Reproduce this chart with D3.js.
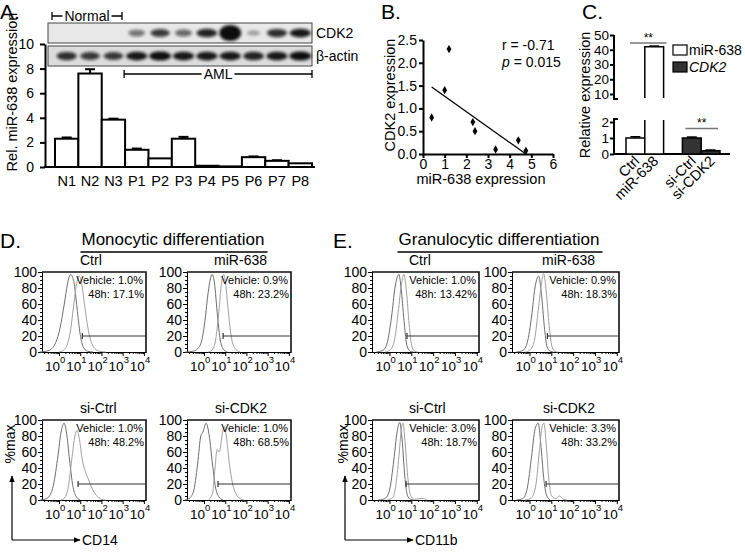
<!DOCTYPE html>
<html>
<head>
<meta charset="utf-8">
<script src="https://cdn.jsdelivr.net/npm/d3@7"></script>
<style>
body { margin: 0; background: #fff; }
svg { display: block; font-family: "Liberation Sans", Arial, sans-serif; }
</style>
</head>
<body>
<svg id="fig" width="745" height="557"></svg>
<script>
// ---------- panel A data ----------
const samples = ["N1", "N2", "N3", "P1", "P2", "P3", "P4", "P5", "P6", "P7", "P8"];
const mirExpr = [2.3, 7.6, 3.85, 1.4, 0.7, 2.3, 0.1, 0.05, 0.8, 0.5, 0.3];
const mirErr = [0.1, 0.35, 0.08, 0.1, 0, 0.15, 0, 0, 0.06, 0.05, 0];
const cdk2Band = [0, 0, 0, 0.55, 0.8, 0.6, 0.9, 1.0, 0.3, 0.85, 0.95];
const actinBand = [0.85, 0.8, 0.8, 0.95, 1.0, 0.95, 0.95, 0.95, 0.9, 0.95, 1.0];

// ---------- panel B data ----------
const corrMir = [0.4, 1.0, 1.2, 2.3, 2.4, 3.35, 4.4, 4.75];
const corrCdk2 = [0.8, 1.4, 2.3, 0.7, 0.5, 0.1, 0.3, 0.07];
const fitLine = [[0.4, 1.47], [4.75, 0.0]];

// ---------- panel C data ----------
const cGroups = ["Ctrl", "miR-638", "", "si-Ctrl", "si-CDK2"];
const cValues = [1.0, 42, null, 1.0, 0.2];
const cErr = [0.08, 0.5, null, 0.06, 0.05];
const cSeries = ["miR-638", "miR-638", null, "CDK2", "CDK2"];

// ---------- panels D/E data: [log10 intensity, %max] ----------
const monoCtrlVeh = [[-0.9,0],[-0.6,1],[-0.35,4],[-0.15,12],[0.05,30],[0.25,60],[0.4,85],[0.55,97],[0.7,88],[0.85,55],[1.0,22],[1.15,6],[1.35,1],[1.6,0]];
const monoCtrl48 = [[0,0],[0.2,2],[0.4,10],[0.55,28],[0.7,60],[0.85,88],[0.95,95],[1.05,88],[1.2,60],[1.35,32],[1.5,14],[1.7,4],[1.9,1],[2.2,0]];
const monoMirVeh = [[-0.9,0],[-0.5,1],[-0.3,4],[-0.1,15],[0.05,40],[0.2,75],[0.38,97],[0.5,85],[0.62,50],[0.75,18],[0.9,4],[1.1,0]];
const monoMir48 = [[0.2,0],[0.4,3],[0.55,15],[0.7,50],[0.82,85],[0.92,97],[1.02,85],[1.15,50],[1.28,20],[1.45,5],[1.7,0]];
const monoSiCtrlVeh = [[-0.9,0],[-0.65,1],[-0.45,5],[-0.25,20],[-0.05,55],[0.1,85],[0.24,96],[0.35,85],[0.5,50],[0.65,18],[0.8,5],[1.0,0]];
const monoSiCtrl48 = [[0.1,0],[0.3,4],[0.45,18],[0.6,50],[0.75,80],[0.85,87],[0.95,78],[1.1,50],[1.25,35],[1.4,25],[1.55,15],[1.75,6],[2.0,1],[2.2,0]];
const monoSiCdkVeh = [[-0.9,0],[-0.7,2],[-0.5,10],[-0.3,45],[-0.15,80],[-0.05,85],[0.1,96],[0.25,80],[0.4,45],[0.55,15],[0.7,4],[0.9,0]];
const monoSiCdk48 = [[0.2,0],[0.4,8],[0.52,40],[0.62,63],[0.72,60],[0.85,80],[0.95,92],[1.05,80],[1.2,45],[1.35,20],[1.5,8],[1.7,2],[1.9,0]];

const granCtrlVeh = [[-0.6,0],[-0.3,2],[-0.1,12],[0.1,45],[0.25,80],[0.43,97],[0.55,75],[0.68,35],[0.8,8],[0.95,1],[1.1,0]];
const granCtrl48 = [[-0.2,0],[0.05,3],[0.25,18],[0.4,50],[0.55,85],[0.66,97],[0.78,75],[0.9,35],[1.02,8],[1.15,1],[1.3,0]];
const granMirVeh = [[-0.6,0],[-0.3,2],[-0.1,12],[0.1,45],[0.25,80],[0.42,95],[0.55,72],[0.68,32],[0.8,7],[0.95,1],[1.1,0]];
const granMir48 = [[-0.2,0],[0.05,3],[0.25,18],[0.4,52],[0.55,86],[0.65,98],[0.77,75],[0.9,33],[1.02,8],[1.15,1],[1.3,0]];
const granSiCtrlVeh = [[-0.5,0],[-0.2,2],[0.0,12],[0.2,50],[0.35,85],[0.47,97],[0.58,75],[0.7,30],[0.82,6],[0.95,1],[1.1,0]];
const granSiCtrl48 = [[-0.1,0],[0.15,3],[0.3,20],[0.45,60],[0.55,90],[0.62,96],[0.72,70],[0.85,25],[0.98,5],[1.15,1],[1.5,2],[1.7,0]];
const granSiCdkVeh = [[-0.6,0],[-0.3,2],[-0.1,15],[0.1,55],[0.25,88],[0.4,96],[0.52,70],[0.65,28],[0.78,6],[0.95,0]];
const granSiCdk48 = [[-0.2,0],[0.1,3],[0.3,20],[0.45,60],[0.58,92],[0.66,96],[0.78,65],[0.9,22],[1.02,5],[1.2,2],[1.37,5],[1.55,1],[1.7,0]];

const monoTitles = ["Ctrl", "miR-638", "si-Ctrl", "si-CDK2"];
const monoVehicle = ["1.0%", "0.9%", "1.0%", "1.0%"];
const mono48h = ["17.1%", "23.2%", "48.2%", "68.5%"];
const monoGates = [1.1, 0.9, 0.9, 0.66];
const granTitles = ["Ctrl", "miR-638", "si-Ctrl", "si-CDK2"];
const granVehicle = ["1.0%", "0.9%", "3.0%", "3.3%"];
const gran48h = ["13.42%", "18.3%", "18.7%", "33.2%"];
const granGates = [0.8, 0.82, 0.76, 0.76];

const svg = d3.select("#fig");

function styleAxis(sel, sw, fs) {
  sel.attr("font-family", null).attr("font-size", fs);
  sel.select(".domain").attr("stroke", "#000").attr("stroke-width", sw);
  sel.selectAll(".tick line").attr("stroke", "#000").attr("stroke-width", sw);
  sel.selectAll(".tick text").attr("fill", "#000");
}

const defs = svg.append("defs");
defs.append("filter").attr("id", "blur").attr("x", "-50%").attr("y", "-100%").attr("width", "200%").attr("height", "300%")
  .append("feGaussianBlur").attr("stdDeviation", 1.6);
defs.append("marker").attr("id", "arrow").attr("viewBox", "0 0 10 10").attr("refX", 9).attr("refY", 5)
  .attr("markerWidth", 6).attr("markerHeight", 6).attr("orient", "auto")
  .append("path").attr("d", "M0,1L10,5L0,9Z").attr("fill", "#000");

// ================= A =================
const gA = svg.append("g");
gA.append("text").attr("x", 0).attr("y", 19).attr("font-size", 21).text("A.");

const xA = d3.scaleBand().domain(samples).range([55, 312]).padding(0);
const yA = d3.scaleLinear().domain([0, 10]).range([167, 44]);

// blot
const blots = [
  { name: "CDK2", y: 23, h: 20, vals: cdk2Band, bg: "#e8e8e8" },
  { name: "β-actin", y: 46, h: 20, vals: actinBand, bg: "#dcdcdc" }
];
blots.forEach(b => {
  gA.append("rect").attr("x", 48).attr("y", b.y).attr("width", 264).attr("height", b.h)
    .attr("fill", b.bg).attr("stroke", "#444").attr("stroke-width", 1);
  gA.append("g").attr("filter", "url(#blur)").selectAll("ellipse").data(samples).join("ellipse")
    .attr("cx", d => xA(d) + xA.bandwidth() / 2)
    .attr("cy", b.y + b.h / 2)
    .attr("rx", (d, i) => 5 + 6 * b.vals[i])
    .attr("ry", (d, i) => (b.name === "CDK2" && d === "P5") ? 8 : 2 + 2.5 * b.vals[i])
    .attr("fill", "#111")
    .attr("opacity", (d, i) => b.vals[i]);
  gA.append("text").attr("x", 316).attr("y", b.y + b.h / 2 + 5).attr("font-size", 14).text(b.name);
});

gA.append("g").attr("transform", "translate(45,0)")
  .call(d3.axisLeft(yA).tickValues([0, 2, 4, 6, 8, 10]).tickFormat(d3.format("d")).tickSize(5).tickSizeOuter(0).tickPadding(6))
  .call(styleAxis, 2, 14);
gA.append("line").attr("x1", 44).attr("x2", 315).attr("y1", yA(0)).attr("y2", yA(0)).attr("stroke", "#000").attr("stroke-width", 2);

gA.selectAll("rect.bar").data(samples).join("rect").attr("class", "bar")
  .attr("x", d => xA(d)).attr("width", xA.bandwidth())
  .attr("y", (d, i) => yA(mirExpr[i])).attr("height", (d, i) => yA(0) - yA(mirExpr[i]))
  .attr("fill", "#fff").attr("stroke", "#000").attr("stroke-width", 2);
samples.forEach((s, i) => {
  if (!mirErr[i]) return;
  const cx = xA(s) + xA.bandwidth() / 2;
  gA.append("line").attr("x1", cx).attr("x2", cx).attr("y1", yA(mirExpr[i])).attr("y2", yA(mirExpr[i] + mirErr[i])).attr("stroke", "#000").attr("stroke-width", 2);
  gA.append("line").attr("x1", cx - 5).attr("x2", cx + 5).attr("y1", yA(mirExpr[i] + mirErr[i])).attr("y2", yA(mirExpr[i] + mirErr[i])).attr("stroke", "#000").attr("stroke-width", 2);
});
gA.selectAll("text.xl").data(samples).join("text").attr("class", "xl")
  .attr("x", d => xA(d) + xA.bandwidth() / 2).attr("y", 186).attr("text-anchor", "middle").attr("font-size", 14.5).text(d => d);
gA.append("text").attr("transform", "translate(17,92) rotate(-90)").attr("text-anchor", "middle").attr("font-size", 14.5).text("Rel. miR-638 expression");

function bracket(g, x1, x2, y, label) {
  const t = g.append("text").attr("x", (x1 + x2) / 2).attr("y", y + 5).attr("text-anchor", "middle").attr("font-size", 14).text(label);
  const w = t.node().getComputedTextLength();
  const c = (x1 + x2) / 2;
  g.append("path").attr("d", `M${x1},${y - 4}V${y + 4}M${x1},${y}H${c - w / 2 - 2}M${c + w / 2 + 2},${y}H${x2}M${x2},${y - 4}V${y + 4}`)
    .attr("stroke", "#000").attr("stroke-width", 1.3).attr("fill", "none");
}
bracket(gA, 52, 122, 16, "Normal");
bracket(gA, xA("P1") - 1, xA("P8") + xA.bandwidth(), 74, "AML");

// ================= B =================
const gB = svg.append("g");
gB.append("text").attr("x", 381).attr("y", 19).attr("font-size", 21).text("B.");
const xB = d3.scaleLinear().domain([0, 6]).range([423, 553]);
const yB = d3.scaleLinear().domain([0, 2.5]).range([154, 40]);
gB.append("g").attr("transform", "translate(423,0)")
  .call(d3.axisLeft(yB).tickValues([0, 0.5, 1, 1.5, 2, 2.5]).tickFormat(d3.format(".1f")).tickSize(4).tickSizeOuter(0).tickPadding(2))
  .call(styleAxis, 2, 14);
gB.append("g").attr("transform", "translate(0,154)")
  .call(d3.axisBottom(xB).tickValues([0, 1, 2, 3, 4, 5, 6]).tickFormat(d3.format("d")).tickSize(4).tickSizeOuter(0).tickPadding(1))
  .call(styleAxis, 2, 14);
gB.selectAll("path.pt").data(corrMir).join("path").attr("class", "pt")
  .attr("transform", (d, i) => `translate(${xB(d)},${yB(corrCdk2[i])})`)
  .attr("d", d3.symbol(d3.symbolDiamond, 20)).attr("fill", "#000");
gB.append("path").attr("d", d3.line().x(d => xB(d[0])).y(d => yB(d[1]))(fitLine)).attr("stroke", "#000").attr("stroke-width", 1.3).attr("fill", "none");
gB.append("text").attr("transform", "translate(395,95) rotate(-90)").attr("text-anchor", "middle").attr("font-size", 14.5).text("CDK2 expression");
gB.append("text").attr("x", 481).attr("y", 184).attr("text-anchor", "middle").attr("font-size", 14.5).text("miR-638 expression");
gB.append("text").attr("x", 502).attr("y", 50).attr("font-size", 14).text("r = -0.71");
const pT = gB.append("text").attr("x", 502).attr("y", 67).attr("font-size", 14);
pT.append("tspan").attr("font-style", "italic").text("p");
pT.append("tspan").text(" = 0.015");

// ================= C =================
const gC = svg.append("g");
gC.append("text").attr("x", 582).attr("y", 19).attr("font-size", 21).text("C.");
const xC = d3.scaleBand().domain(cGroups).range([626, 720]).padding(0);
const yCu = d3.scaleLinear().domain([10, 50]).range([94, 35]);
const yCl = d3.scaleLinear().domain([0, 2]).range([154, 122]);
const axU = gC.append("g").attr("transform", "translate(614,0)")
  .call(d3.axisLeft(yCu).tickValues([10, 20, 30, 40, 50]).tickFormat(d3.format("d")).tickSize(4).tickSizeOuter(0).tickPadding(1))
  .call(styleAxis, 2, 13.5);
axU.select(".domain").attr("d", `M0,${yCu(50)}V${yCu(10) + 5}H4`);
const axL = gC.append("g").attr("transform", "translate(614,0)")
  .call(d3.axisLeft(yCl).tickValues([0, 1, 2]).tickFormat(d3.format("d")).tickSize(4).tickSizeOuter(0).tickPadding(1))
  .call(styleAxis, 2, 13.5);
axL.select(".domain").attr("d", `M4,${yCl(2) - 3}H0V${yCl(0)}`);
gC.append("line").attr("x1", 613).attr("x2", 730).attr("y1", yCl(0)).attr("y2", yCl(0)).attr("stroke", "#000").attr("stroke-width", 2);

const fillFor = s => s === "CDK2" ? "#333" : "#fff";
cGroups.forEach((gname, i) => {
  if (cValues[i] === null) return;
  const x = xC(gname), w = xC.bandwidth(), v = cValues[i], cx = x + w / 2;
  if (v <= 2) {
    gC.append("rect").attr("x", x).attr("y", yCl(v)).attr("width", w).attr("height", yCl(0) - yCl(v))
      .attr("fill", fillFor(cSeries[i])).attr("stroke", "#000").attr("stroke-width", 1.5);
    gC.append("line").attr("x1", cx).attr("x2", cx).attr("y1", yCl(v)).attr("y2", yCl(v + cErr[i])).attr("stroke", "#000").attr("stroke-width", 1.5);
    gC.append("line").attr("x1", cx - 5).attr("x2", cx + 5).attr("y1", yCl(v + cErr[i])).attr("y2", yCl(v + cErr[i])).attr("stroke", "#000").attr("stroke-width", 1.5);
  } else {
    gC.append("path").attr("d", `M${x},${yCu(10) + 4}V${yCu(v)}H${x + w}V${yCu(10) + 4}`)
      .attr("fill", fillFor(cSeries[i])).attr("stroke", "#000").attr("stroke-width", 1.5);
    gC.append("path").attr("d", `M${x},${yCl(2) - 2}V${yCl(0)}H${x + w}V${yCl(2) - 2}`)
      .attr("fill", fillFor(cSeries[i])).attr("stroke", "#000").attr("stroke-width", 1.5);
    gC.append("line").attr("x1", cx - 5).attr("x2", cx + 5).attr("y1", yCu(v + cErr[i])).attr("y2", yCu(v + cErr[i])).attr("stroke", "#000").attr("stroke-width", 1.5);
  }
  gC.append("text").attr("transform", `translate(${cx + 5},${yCl(0) + 8}) rotate(-45)`)
    .attr("text-anchor", "end").attr("font-size", 14.5).text(gname);
});
function sig(x1, x2, y) {
  gC.append("line").attr("x1", x1).attr("x2", x2).attr("y1", y).attr("y2", y).attr("stroke", "#777").attr("stroke-width", 1.5);
  gC.append("text").attr("x", (x1 + x2) / 2).attr("y", y - 1).attr("text-anchor", "middle").attr("font-size", 12).text("**");
}
sig(xC("Ctrl") + 4, xC("miR-638") + xC.bandwidth() + 3, yCu(44.5));
sig(xC("si-Ctrl") + 3, xC("si-CDK2") + xC.bandwidth() - 2, yCl(1.6));
const legC = [["miR-638", "#fff", "normal"], ["CDK2", "#333", "italic"]];
legC.forEach((l, i) => {
  gC.append("rect").attr("x", 673).attr("y", 45 + i * 17).attr("width", 14).attr("height", 10).attr("fill", l[1]).attr("stroke", "#000").attr("stroke-width", 1.2);
  gC.append("text").attr("x", 689).attr("y", 55 + i * 17).attr("font-size", 14).attr("font-style", l[2]).text(l[0]);
});
gC.append("text").attr("transform", "translate(590,95) rotate(-90)").attr("text-anchor", "middle").attr("font-size", 14.5).text("Relative expression");

// ================= D / E =================
function histPanel(x0, y0, w, h, veh, trt, gate, vehTxt, hTxt) {
  const g = svg.append("g");
  const x = d3.scaleLog().domain([Math.pow(10, -0.8), Math.pow(10, 4.1)]).range([x0, x0 + w]);
  const y = d3.scaleLinear().domain([0, 100]).range([y0 + h, y0]);
  const minorY = d3.axisLeft(y).tickValues(d3.range(0, 101, 5)).tickSize(2).tickFormat("").tickSizeOuter(0);
  g.append("g").attr("transform", `translate(${x0},0)`).call(minorY).call(styleAxis, 1, 14);
  g.append("g").attr("transform", `translate(${x0},0)`)
    .call(d3.axisLeft(y).tickValues([0, 20, 40, 60, 80, 100]).tickFormat(d3.format("d")).tickSize(4).tickSizeOuter(0).tickPadding(1))
    .call(styleAxis, 1, 14);
  const minors = [];
  for (let d = -1; d < 4; d++) for (let k = 2; k < 10; k++) {
    const v = k * Math.pow(10, d);
    if (v > x.domain()[0]) minors.push(v);
  }
  g.append("g").attr("transform", `translate(0,${y0 + h})`)
    .call(d3.axisBottom(x).tickValues(minors).tickSize(2).tickFormat("").tickSizeOuter(0)).call(styleAxis, 1, 13);
  const majors = [1, 10, 100, 1000, 10000];
  g.append("g").attr("transform", `translate(0,${y0 + h})`)
    .call(d3.axisBottom(x).tickValues(majors).tickSize(4).tickFormat("").tickSizeOuter(0)).call(styleAxis, 1, 13);
  majors.forEach((m, i) => {
    g.append("text").attr("x", x(m) + 1).attr("y", y0 + h + 19).attr("text-anchor", "end").attr("font-size", 13.5).text("10");
    g.append("text").attr("x", x(m) + 1).attr("y", y0 + h + 11).attr("font-size", 9.5).text(i);
  });
  g.append("path").attr("d", `M${x0},${y0}H${x0 + w}V${y0 + h}`).attr("stroke", "#111").attr("stroke-width", 1.6).attr("fill", "none");
  const line = d3.line().x(d => x(Math.pow(10, d[0]))).y(d => y(d[1])).curve(d3.curveMonotoneX);
  g.append("path").attr("d", line(veh)).attr("stroke", "#6e6e6e").attr("stroke-width", 1).attr("fill", "none");
  g.append("path").attr("d", line(trt)).attr("stroke", "#a0a0a0").attr("stroke-width", 1).attr("fill", "none");
  const gx = x(Math.pow(10, gate));
  g.append("path").attr("d", `M${gx},${y(20) - 3}V${y(20) + 3}M${gx},${y(20)}H${x0 + w}`).attr("stroke", "#333").attr("stroke-width", 1.2).attr("fill", "none");
  g.append("text").attr("x", x0 + w - 3).attr("y", y0 + 12).attr("text-anchor", "end").attr("font-size", 11).text("Vehicle: " + vehTxt);
  g.append("text").attr("x", x0 + w - 2).attr("y", y0 + 26).attr("text-anchor", "end").attr("font-size", 11).text("48h: " + hTxt);
}

function figure(letter, lx, title, tcx, colX, w, titles, vehs, hs, gates, curves, titleXs, yLab, axisX, marker) {
  svg.append("text").attr("x", lx).attr("y", 248).attr("font-size", 21).text(letter);
  const t = svg.append("text").attr("x", tcx).attr("y", 245).attr("text-anchor", "middle").attr("font-size", 17).text(title);
  const tw = t.node().getComputedTextLength();
  svg.append("line").attr("x1", tcx - tw / 2 - 1).attr("x2", tcx + tw / 2 + 3).attr("y1", 252).attr("y2", 252).attr("stroke", "#000").attr("stroke-width", 1.3);
  const rows = [272, 420];
  titles.forEach((tt, i) => {
    const r = Math.floor(i / 2), c = i % 2;
    histPanel(colX[c], rows[r], w, 80, curves[i][0], curves[i][1], gates[i], vehs[i], hs[i]);
    svg.append("text").attr("x", titleXs[c]).attr("y", rows[r] - 7).attr("text-anchor", c === 0 ? "start" : "end").attr("font-size", 14).text(tt);
  });
  svg.append("text").attr("transform", `translate(${axisX + 3},444) rotate(-90)`).attr("text-anchor", "middle").attr("font-size", 14).text(yLab);
  svg.append("line").attr("x1", axisX).attr("x2", axisX).attr("y1", 540).attr("y2", 476).attr("stroke", "#000").attr("stroke-width", 1.2).attr("marker-end", "url(#arrow)");
  svg.append("line").attr("x1", axisX).attr("x2", axisX + 68).attr("y1", 540).attr("y2", 540).attr("stroke", "#000").attr("stroke-width", 1.2).attr("marker-end", "url(#arrow)");
  svg.append("text").attr("x", axisX + 70).attr("y", 545).attr("font-size", 14).text(marker);
}

figure("D.", 0, "Monocytic differentiation", 173, [42, 187], 104, monoTitles, monoVehicle, mono48h, monoGates,
  [[monoCtrlVeh, monoCtrl48], [monoMirVeh, monoMir48], [monoSiCtrlVeh, monoSiCtrl48], [monoSiCdkVeh, monoSiCdk48]],
  [80, 267], "%max", 12, "CD14");
figure("E.", 333, "Granulocytic differentiation", 499, [372, 512], 107, granTitles, granVehicle, gran48h, granGates,
  [[granCtrlVeh, granCtrl48], [granMirVeh, granMir48], [granSiCtrlVeh, granSiCtrl48], [granSiCdkVeh, granSiCdk48]],
  [409, 595], "%max", 345, "CD11b");
</script>
</body>
</html>
